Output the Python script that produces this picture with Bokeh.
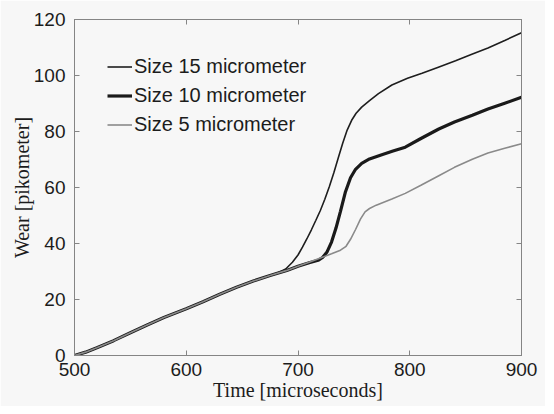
from bokeh.plotting import figure
from bokeh.models import LinearAxis, Range1d, FixedTicker, Legend, LegendItem
from bokeh.embed import file_html
from bokeh.resources import INLINE

# ---- data ----
x_ticks = [500, 600, 700, 800, 900]
y_ticks = [0, 20, 40, 60, 80, 100, 120]

labels = ["Size 15 micrometer", "Size 10 micrometer", "Size 5 micrometer"]
x_title = "Time [microseconds]"
y_title = "Wear [pikometer]"

time15 = [500, 510, 520, 535, 550, 565, 580, 600, 615, 630, 645, 660, 675, 682,
          689, 695, 700, 704, 708, 712, 716, 720, 724, 728, 732, 736, 740, 744,
          748, 752, 757, 764, 772, 784, 798, 811, 825, 841, 855, 870, 885, 900]
wear15 = [0, 1.2, 2.8, 5.3, 8.1, 10.9, 13.6, 16.7, 19.2, 21.9, 24.4, 26.6, 28.6, 29.5,
          30.9, 33.3, 35.9, 38.7, 41.7, 44.9, 48.3, 51.8, 55.8, 60.3, 65.2, 70.5, 75.8, 80.5,
          84.0, 86.5, 88.7, 91.0, 93.5, 96.6, 99.0, 100.8, 102.9, 105.3, 107.5, 109.8, 112.5, 115.3]

time10 = [500, 510, 520, 535, 550, 565, 580, 600, 615, 630, 645, 660, 675, 690,
          700, 710, 718, 722, 726, 730, 734, 738, 742.5, 747, 751.5, 757, 764,
          775, 785, 796, 810, 826, 840, 856, 870, 885, 900]
wear10 = [0, 1.2, 2.8, 5.3, 8.1, 10.9, 13.6, 16.7, 19.2, 21.9, 24.4, 26.6, 28.6, 30.4,
          31.9, 33.1, 34.0, 35.0, 37.0, 40.5, 45.5, 51.5, 58.5, 63.5, 66.5, 68.6, 70.2,
          71.7, 73.0, 74.4, 77.5, 80.9, 83.4, 85.8, 88.0, 90.1, 92.2]

time5 = [500, 510, 520, 535, 550, 565, 580, 600, 615, 630, 645, 660, 675, 690,
         700, 710, 720, 730, 738, 743, 747, 751.5, 756, 760, 764, 770, 784, 796,
         810, 826, 840, 856, 870, 885, 900]
wear5 = [0, 1.2, 2.8, 5.3, 8.1, 10.9, 13.6, 16.7, 19.2, 21.9, 24.4, 26.6, 28.6, 30.4,
         31.9, 33.3, 34.8, 36.3, 37.6, 39.0, 41.5, 45.0, 48.8, 51.3, 52.5, 53.7, 55.9, 57.9,
         60.8, 64.2, 67.2, 70.1, 72.3, 74.0, 75.6]

# ---- styling ----
BG = "#f7f7f7"
AXIS_COLOR = "#858585"
TEXT_COLOR = "#1c1c1c"

p = figure(width=545, height=406, output_backend="svg", toolbar_location=None,
           x_range=Range1d(500, 900), y_range=Range1d(0, 120),
           min_border_left=74, min_border_right=24, min_border_top=19, min_border_bottom=51,
           background_fill_color=BG, border_fill_color=BG,
           outline_line_color=AXIS_COLOR, outline_line_width=1)
# let the grey figure background run into the page's bottom margin without a scrollbar
p.styles = {"margin-bottom": "-8px"}
p.grid.visible = False

def style_axis(ax, show_labels=True):
    ax.axis_line_color = AXIS_COLOR
    ax.major_tick_line_color = AXIS_COLOR
    ax.major_tick_in = 5
    ax.major_tick_out = 0
    ax.minor_tick_line_color = None
    if show_labels:
        ax.major_label_text_font = "Liberation Sans"
        ax.major_label_text_font_size = "19px"
        ax.major_label_text_color = TEXT_COLOR
        ax.axis_label_text_font = "Liberation Serif"
        ax.axis_label_text_font_size = "20px"
        ax.axis_label_text_font_style = "normal"
        ax.axis_label_text_color = TEXT_COLOR
    else:
        ax.major_label_text_color = None
        ax.major_label_text_font_size = "1px"
        ax.major_label_standoff = 0

p.xaxis.ticker = FixedTicker(ticks=x_ticks)
p.yaxis.ticker = FixedTicker(ticks=y_ticks)
style_axis(p.xaxis[0])
style_axis(p.yaxis[0])
p.xaxis.axis_label = x_title
p.yaxis.axis_label = y_title
p.xaxis.major_label_standoff = 7
p.yaxis.major_label_standoff = 9
p.xaxis.axis_label_standoff = 0
p.yaxis.axis_label_standoff = -2

top_axis = LinearAxis(ticker=FixedTicker(ticks=x_ticks))
right_axis = LinearAxis(ticker=FixedTicker(ticks=y_ticks))
style_axis(top_axis, show_labels=False)
style_axis(right_axis, show_labels=False)
p.add_layout(top_axis, "above")
p.add_layout(right_axis, "right")

r15 = p.line(time15, wear15, line_color="#1e1e1e", line_width=1.6)
r10 = p.line(time10, wear10, line_color="#1a1a1a", line_width=3.2)
r5 = p.line(time5, wear5, line_color="#8a8a8a", line_width=1.6)

legend = Legend(items=[LegendItem(label=labels[0], renderers=[r15]),
                       LegendItem(label=labels[1], renderers=[r10]),
                       LegendItem(label=labels[2], renderers=[r5])],
                location="top_left",
                label_text_font="Liberation Sans", label_text_font_size="20px",
                label_text_color=TEXT_COLOR,
                glyph_width=25, glyph_height=29, label_height=29,
                spacing=0, padding=33, margin=0, label_standoff=2,
                border_line_alpha=0, background_fill_alpha=0)
p.add_layout(legend)

open("out.html", "w").write(file_html(p, INLINE))
